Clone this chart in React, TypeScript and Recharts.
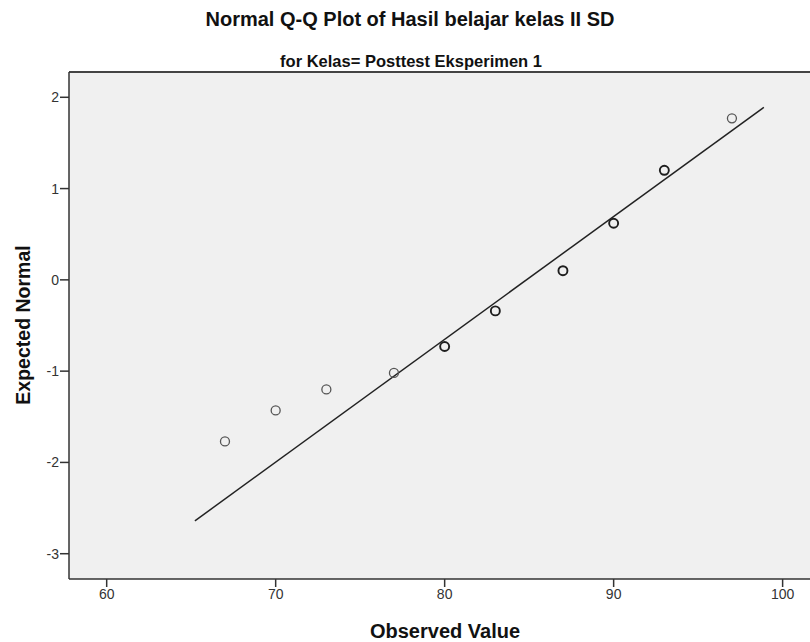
import React from "react";
import { ScatterChart, Scatter, XAxis, YAxis, CartesianGrid, ReferenceLine } from "recharts";

const observed = [67, 70, 73, 77, 80, 83, 87, 90, 93, 97];
const expected = [-1.77, -1.43, -1.2, -1.02, -0.73, -0.34, 0.1, 0.62, 1.2, 1.77];
// how many cases sit on each point (darker circles = ties)
const overlap = [1, 1, 1, 1, 2, 2, 2, 2, 2, 1];

// reference line end points
const lineX = [65.22, 98.89];
const lineY = [-2.64, 1.89];

const xTicks = [60, 70, 80, 90, 100];
const yTicks = [-3, -2, -1, 0, 1, 2];
const xDomain = [57.77, 101.62];
const yDomain = [-3.277, 2.277];

const font = "'Liberation Sans', Arial, sans-serif";

const points = observed.map((x, i) => ({ x, y: expected[i], n: overlap[i] }));
const lineData = lineX.map((x, i) => ({ x, y: lineY[i] }));

const Circle = (props: any) => {
  const { cx, cy, payload } = props;
  const dup = payload && payload.n > 1;
  return (
    <circle
      cx={cx}
      cy={cy}
      r={4.5}
      fill="none"
      stroke={dup ? "#1e1e1e" : "#555"}
      strokeWidth={dup ? 1.9 : 1.3}
    />
  );
};

const NoDot = () => <g />;

const App: React.FC = () => {
  return (
    <div style={{ position: "absolute", left: 0, top: 0, width: 810, height: 642, background: "#fff", fontFamily: font, overflow: "hidden" }}>
      <div style={{ position: "absolute", left: 410, top: 19, transform: "translate(-50%, -50%)", fontSize: 20, fontWeight: "bold", color: "#111", whiteSpace: "nowrap" }}>
        Normal Q-Q Plot of Hasil belajar kelas II SD
      </div>
      <div style={{ position: "absolute", left: 411, top: 61, transform: "translate(-50%, -50%)", fontSize: 16.5, fontWeight: "bold", color: "#111", whiteSpace: "nowrap" }}>
        for Kelas= Posttest Eksperimen 1
      </div>
      <div style={{ position: "absolute", left: 23, top: 325, transform: "translate(-50%, -50%) rotate(-90deg)", fontSize: 19.5, fontWeight: "bold", color: "#111", whiteSpace: "nowrap" }}>
        Expected Normal
      </div>
      <div style={{ position: "absolute", left: 445, top: 631, transform: "translate(-50%, -50%)", fontSize: 20, fontWeight: "bold", color: "#111", whiteSpace: "nowrap" }}>
        Observed Value
      </div>
      <div style={{ position: "absolute", left: 0, top: 0 }}>
        <ScatterChart width={810} height={642} margin={{ top: 72, right: 0, bottom: 0, left: 0 }}>
          <CartesianGrid fill="#f0f0f0" horizontal={false} vertical={false} stroke="none" />
          <XAxis
            type="number"
            dataKey="x"
            domain={xDomain}
            ticks={xTicks}
            allowDataOverflow
            height={63}
            tickSize={8}
            tickMargin={2}
            tick={{ fontSize: 14, fill: "#333", fontFamily: font }}
            axisLine={{ stroke: "#333", strokeWidth: 1.5 }}
            tickLine={{ stroke: "#333", strokeWidth: 1.5 }}
          />
          <YAxis
            type="number"
            dataKey="y"
            domain={yDomain}
            ticks={yTicks}
            allowDataOverflow
            width={69}
            tickSize={9}
            tickMargin={1}
            tick={{ fontSize: 14, fill: "#333", fontFamily: font }}
            axisLine={{ stroke: "#333", strokeWidth: 1.5 }}
            tickLine={{ stroke: "#333", strokeWidth: 1.5 }}
          />
          <ReferenceLine y={yDomain[1]} stroke="#444" strokeWidth={2} ifOverflow="visible" />
          <Scatter
            data={lineData}
            line={{ stroke: "#222", strokeWidth: 1.5 }}
            shape={NoDot}
            isAnimationActive={false}
          />
          <Scatter data={points} shape={Circle} isAnimationActive={false} />
        </ScatterChart>
      </div>
    </div>
  );
};

export default App;
